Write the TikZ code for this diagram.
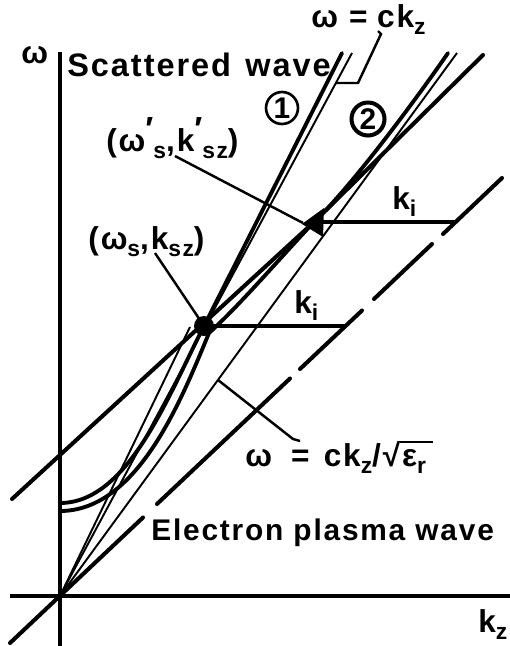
\documentclass[tikz,border=0pt]{standalone}
\usepackage{fontspec}
\setmainfont{Liberation Sans}
\newfontfamily\lblfont{Liberation Sans}[LetterSpace=6]
\newcommand\lblsize{\lblfont\bfseries\fontsize{18}{21}\selectfont}
\newcommand\lsub[1]{\raisebox{-0.25em}{\fontsize{13}{14}\selectfont #1}}
\newcommand\lsubp[1]{\raisebox{0.32em}{\fontsize{19}{19}\selectfont ′}\raisebox{-0.25em}{\fontsize{13}{14}\selectfont #1}}
\newcommand\ovl[1]{\vbox{\hrule height 1.2pt\kern-1.2pt\hbox{\vphantom{√}#1}}}
\begin{document}
\begin{tikzpicture}[x=0.02cm,y=-0.02cm,
  thickline/.style={line width=2.3pt, line cap=round},
  curveline/.style={line width=2.2pt, line cap=round},
  thinline/.style={line width=1.1pt},
  axisline/.style={line width=2.1pt},
  leader/.style={line width=1.4pt},
  kline/.style={line width=2pt},
  lbl/.style={font=\lblsize, inner sep=0pt, anchor=base west},
  circnum/.style={circle, draw, inner sep=0pt, font=\lblfont\bfseries\fontsize{17}{17}\selectfont}]
\useasboundingbox (0,0) rectangle (510,646);

% key points
\coordinate (O) at (60,596);
\coordinate (P1) at (204,326);
\coordinate (P2) at (314,222);

% axes
\draw[axisline] (60,52) -- (60,646);
\draw[axisline] (10,596) -- (510,596);

% thin lines from origin
\draw[thinline] (O) -- (190,327);
\draw[thinline] (O) -- (352,53);
\draw[thinline] (O) -- (457,53);

% long line (shifted plasma wave)
\draw[thickline] (12,499) -- (P2) -- (483,55);

% dashed line through origin
\draw[thickline] (10,643) -- (143,517.5);
\draw[thickline] (157,504) -- (290,378.5);
\draw[thickline] (300,369) -- (362,310.5);
\draw[thickline] (374,299) -- (432,244);
\draw[thickline] (443,234) -- (502,178);

% scattered wave curves
\draw[curveline] (60,503) .. controls (128,503) and (168,396) .. (P1) -- (342,53);
\draw[curveline] (60,511) .. controls (138,511) and (182,398) .. (209,333)
   .. controls (240,305) and (280,258) .. (P2)
   .. controls (355,183) and (424,88) .. (448,53);

% k_i arrows
\draw[kline] (P1) -- (346,326);
\draw[kline] (P2) -- (455,222);
\fill (P1) circle[radius=0.2cm];
\fill (302,224) -- (324,208) -- (323,237) -- cycle;

% labels
\node[lbl] (wlab) at (21,63) {ω};
\node[lbl, font=\lblfont\bfseries\fontsize{18.5}{21}\selectfont] (scat) at (67,76) {Scattered\hspace{0.1em} wave};
\node[lbl] (eqc) at (311,27) {ω\hspace{0.35em}=\hspace{0.3em}ck\lsub{z}};
\node[lbl] (pt2) at (106,151) {(ω\lsubp{s},k\lsubp{sz})};
\node[lbl] (pt1) at (88,249) {(ω\lsub{s},k\lsub{sz})};
\node[lbl] (ki2) at (392,209) {k\lsub{i}};
\node[lbl] (ki1) at (294,313) {k\lsub{i}};
\node[lbl] (eqd) at (245,466) {ω\hspace{0.6em}=\hspace{0.45em}ck\lsub{z}/√\ovl{\hspace{1pt}ε\lsub{r}\hspace{4pt}}};
\node[lbl, font=\lblfont\bfseries\fontsize{17}{20}\selectfont] (epw) at (151,540) {Electron plasma wave};
\node[lbl] (kz) at (478,632) {k\lsub{z}};
\node[circnum, minimum size=0.64cm, line width=1.5pt] (c1) at (282,108) {1};
\node[circnum, minimum size=0.66cm, line width=2.3pt] (c2) at (368,119) {2};

% leaders
\coordinate (l2s) at (175,156);
\coordinate (l1s) at (155,253);
\coordinate (t1pt) at (336,83);
\coordinate (t2pt) at (218,380);
\draw[leader] (l2s) -- (303,223);
\draw[leader] (l1s) -- (P1);
\draw[leader] (t1pt) -- (358,83) -- (381,34) -- (378,31);
\draw[leader] (t2pt) -- (293,439) -- (300,441);
\end{tikzpicture}
\end{document}
